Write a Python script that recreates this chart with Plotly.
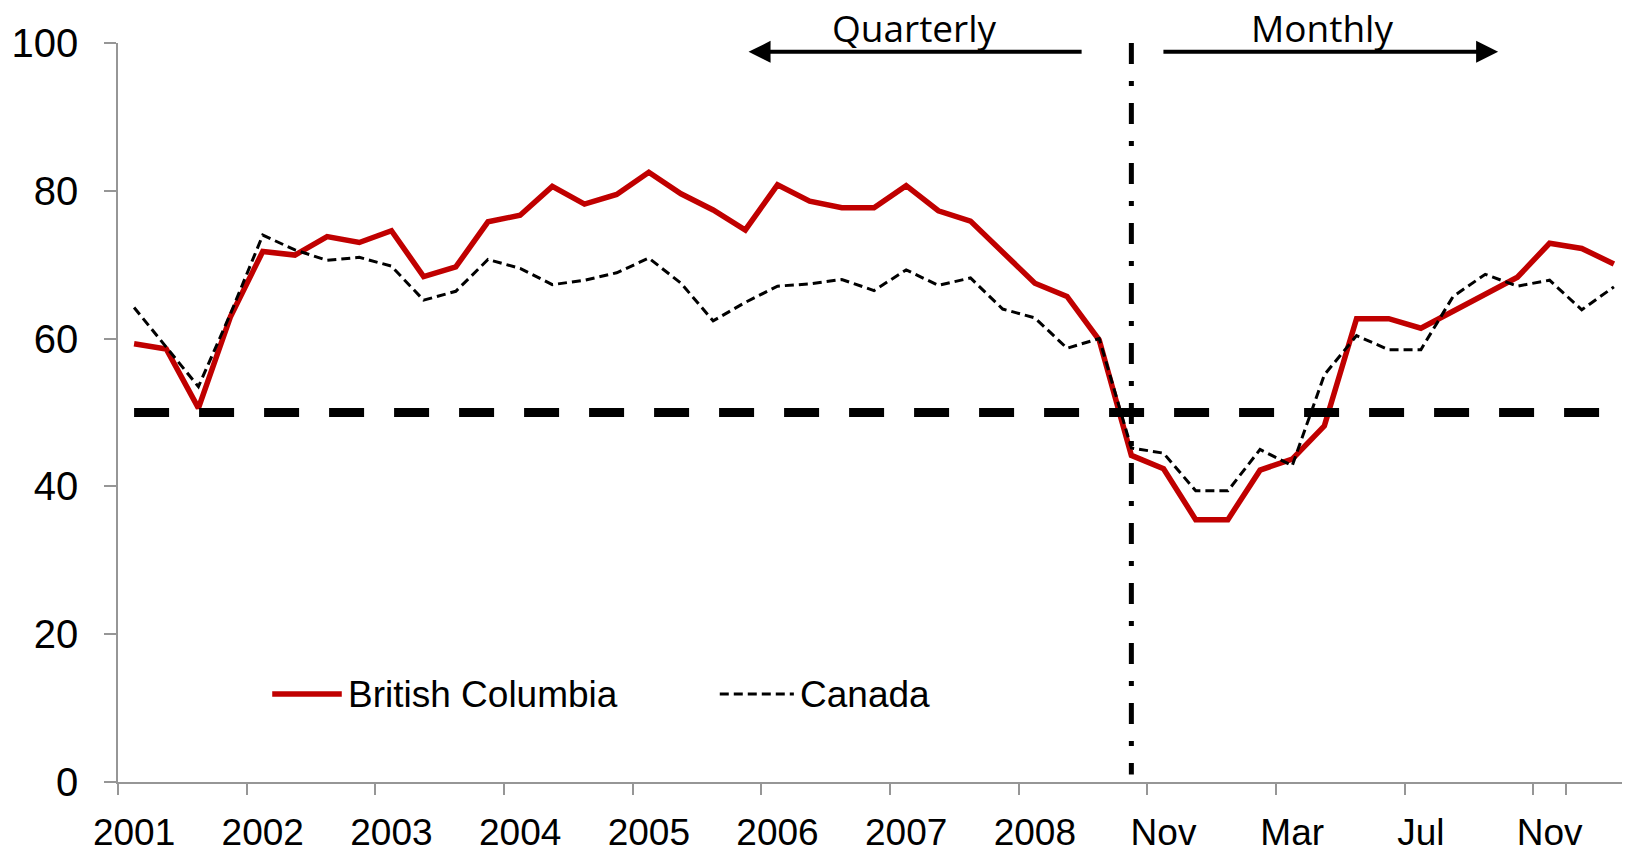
import plotly.graph_objects as go

# x categories: quarterly to 2008 Q3, then monthly from Oct 2008
QUARTERS = [f"{yr} Q{q}" for yr in range(2001, 2009) for q in range(1, 5)][:-1]
MONTHS = ["Oct 2008", "Nov 2008", "Dec 2008", "Jan 2009", "Feb 2009", "Mar 2009",
          "Apr 2009", "May 2009", "Jun 2009", "Jul 2009", "Aug 2009", "Sep 2009",
          "Oct 2009", "Nov 2009", "Dec 2009", "Jan 2010"]
PERIODS = QUARTERS + MONTHS

BC = [59.3, 58.6, 50.6, 63.0,
      71.8, 71.3, 73.8, 73.0,
      74.6, 68.4, 69.7, 75.8,
      76.7, 80.6, 78.2, 79.5,
      82.5, 79.6, 77.4, 74.7,
      80.8, 78.6, 77.7, 77.7,
      80.7, 77.3, 75.9, 71.6,
      67.5, 65.7, 59.8,
      44.2, 42.4, 35.5, 35.5, 42.2, 43.7, 48.2, 62.7,
      62.7, 61.4, 63.7, 65.9, 68.3, 72.9, 72.2, 70.1]

CANADA = [64.2, 58.9, 53.5, 63.4,
          74.0, 72.0, 70.6, 71.0,
          69.8, 65.2, 66.4, 70.7,
          69.5, 67.3, 67.9, 68.9,
          70.9, 67.5, 62.4, 64.9,
          67.1, 67.4, 68.0, 66.5,
          69.3, 67.2, 68.2, 64.0,
          62.8, 58.7, 60.0,
          45.2, 44.5, 39.4, 39.4, 45.0, 42.8, 55.1, 60.4,
          58.5, 58.5, 65.7, 68.7, 67.1, 67.9, 63.9, 67.0]

TICK_LABELS = ["2001", "2002", "2003", "2004", "2005", "2006", "2007", "2008",
               "Nov", "Mar", "Jul", "Nov"]
Y_TICKS = [0, 20, 40, 60, 80, 100]
THRESHOLD = 50
SPLIT = "Oct 2008"

RED = '#C00000'
AXIS_GREY = '#969696'
FONT = 'Arial, Liberation Sans, sans-serif'
LABEL_FONT = 'Open Sans, sans-serif'

fig = go.Figure()

fig.add_trace(go.Scatter(
    x=PERIODS, y=BC, mode='lines', name='British Columbia',
    line=dict(color=RED, width=5.5)
))

fig.add_trace(go.Scatter(
    x=PERIODS, y=CANADA, mode='lines', name='Canada',
    line=dict(color='black', width=3, dash='9px,5px')
))

fig.add_trace(go.Scatter(
    x=[PERIODS[0], PERIODS[-1]], y=[THRESHOLD, THRESHOLD], mode='lines',
    line=dict(color='black', width=9, dash='35px,30px'),
    hoverinfo='skip'
))

# quarterly / monthly divider
fig.add_shape(
    type='line', xref='x', yref='y', x0=SPLIT, x1=SPLIT, y0=100, y1=1,
    line=dict(color='black', width=5, dash='21px,17px,5px,17px'),
    layer='above'
)

# hand-drawn legend
fig.add_shape(type='line', xref='paper', yref='y', x0=0.102, x1=0.148, y0=11.9, y1=11.9,
              line=dict(color=RED, width=5.5))
fig.add_shape(type='line', xref='paper', yref='y', x0=0.398, x1=0.447, y0=11.9, y1=11.9,
              line=dict(color='black', width=3, dash='9px,5px'))

annotations = [
    dict(x=0.1505, y=11.9, xref='paper', yref='y', text='British Columbia',
         showarrow=False, xanchor='left', yanchor='middle', font=dict(size=37)),
    dict(x=0.4495, y=11.9, xref='paper', yref='y', text='Canada',
         showarrow=False, xanchor='left', yanchor='middle', font=dict(size=37)),
    dict(x=0.527, y=1.021, xref='paper', yref='paper', text='Quarterly', showarrow=False,
         xanchor='center', yanchor='middle', font=dict(family=LABEL_FONT, size=37)),
    dict(x=0.796, y=1.021, xref='paper', yref='paper', text='Monthly', showarrow=False,
         xanchor='center', yanchor='middle', font=dict(family=LABEL_FONT, size=37)),
    dict(x=19.1, y=98.8, ax=29.5, ay=98.8, xref='x', yref='y', axref='x', ayref='y',
         text='', showarrow=True, arrowhead=2, arrowsize=1.1, arrowwidth=4,
         arrowcolor='black'),
    dict(x=42.4, y=98.8, ax=31.95, ay=98.8, xref='x', yref='y', axref='x', ayref='y',
         text='', showarrow=True, arrowhead=2, arrowsize=1.1, arrowwidth=4,
         arrowcolor='black'),
]

# page body adds an 8px margin, so the figure is 8px smaller than the window
fig.update_layout(
    width=1622, height=844,
    margin=dict(l=110, r=0, t=35, b=70),
    plot_bgcolor='white', paper_bgcolor='white',
    showlegend=False,
    font=dict(family=FONT, color='black'),
    annotations=annotations
)

fig.update_xaxes(
    type='category', range=[-0.5, 46.5], automargin=False,
    tickmode='array', tickvals=PERIODS[::4], ticktext=TICK_LABELS, tickangle=0,
    tickson='boundaries', ticks='outside', ticklen=11, tickwidth=1.5,
    tickcolor=AXIS_GREY, showline=True, linecolor=AXIS_GREY, linewidth=1.5,
    showgrid=False, tickfont=dict(size=37), ticklabelstandoff=17
)

fig.update_yaxes(
    range=[0, 100], tickvals=Y_TICKS, ticks='outside', ticklen=12, tickwidth=1.5,
    automargin=False,
    tickcolor=AXIS_GREY, showline=True, linecolor=AXIS_GREY, linewidth=1.5,
    showgrid=False, zeroline=False, tickfont=dict(size=40), ticklabelstandoff=18
)

fig.write_html("out.html")
